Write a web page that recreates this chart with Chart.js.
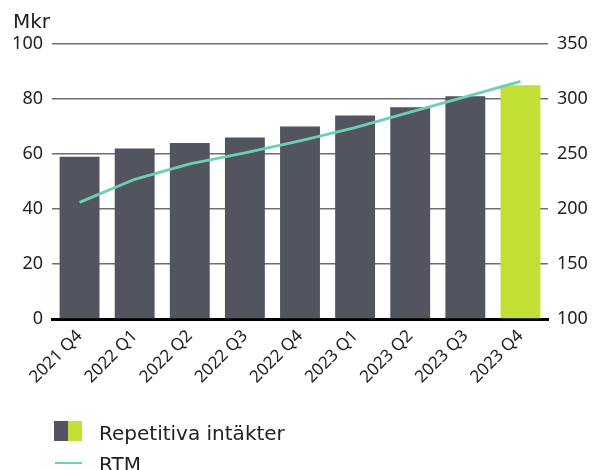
<!DOCTYPE html>
<html>
<head>
<meta charset="utf-8">
<script src="https://cdn.jsdelivr.net/npm/chart.js@4.4.0/dist/chart.umd.min.js"></script>
<style>
  html, body { margin: 0; padding: 0; background: #fff; overflow: hidden; }
  #wrap { position: relative; width: 592px; height: 470px; font-family: 'DejaVu Sans', sans-serif; color: #222; }
  .txt { position: absolute; font-size: 20px; line-height: 20px; white-space: nowrap; }
  .box { position: absolute; }
</style>
</head>
<body>
<div id="wrap">
  <canvas id="chart" width="592" height="470"></canvas>
  <div class="txt" style="left:13px; top:11px;">Mkr</div>
  <div class="box" style="left:54px; top:421px; width:14px; height:20px; background:#52545f;"></div>
  <div class="box" style="left:68px; top:421px; width:14px; height:20px; background:#c1df34;"></div>
  <div class="txt" style="left:99px; top:423px;">Repetitiva intäkter</div>
  <div class="box" style="left:55px; top:462px; width:27px; height:2px; background:#6dd0b6;"></div>
  <div class="txt" style="left:99px; top:454px;">RTM</div>
</div>
<script>
const quarters = ['2021 Q4', '2022 Q1', '2022 Q2', '2022 Q3', '2022 Q4', '2023 Q1', '2023 Q2', '2023 Q3', '2023 Q4'];
const repetitiva = [59, 62, 64, 66, 70, 74, 77, 81, 85];
const rtm = [206, 227, 241, 251, 262, 274, 288, 302, 316];
const leftTicks = [0, 20, 40, 60, 80, 100];
const rightTicks = [100, 150, 200, 250, 300, 350];

const barColors = repetitiva.map((v, i) => i === repetitiva.length - 1 ? '#c1df34' : '#52545f');
const tickFont = { family: 'Noto Sans', size: 18 };

new Chart(document.getElementById('chart'), {
  data: {
    labels: quarters,
    datasets: [
      {
        type: 'line',
        label: 'RTM',
        data: rtm,
        yAxisID: 'y2',
        borderColor: '#6dd0b6',
        borderWidth: 2.8,
        pointRadius: 0,
        tension: 0,
        order: 0,
      },
      {
        type: 'bar',
        label: 'Repetitiva intäkter',
        data: repetitiva,
        yAxisID: 'y',
        backgroundColor: barColors,
        categoryPercentage: 0.724,
        barPercentage: 1,
        order: 1,
      },
    ],
  },
  options: {
    responsive: false,
    animation: false,
    layout: { padding: { top: 44, left: 0, right: 0, bottom: 0 } },
    plugins: { legend: { display: false }, tooltip: { enabled: false } },
    scales: {
      x: {
        grid: { display: false, drawTicks: false },
        border: { color: '#000', width: 3 },
        ticks: { color: '#222', font: { family: 'Noto Sans', size: 17 }, maxRotation: 45, minRotation: 45, padding: 7 },
        afterFit: (s) => { s.height = 151; },
      },
      y: {
        position: 'left',
        min: 0,
        max: 100,
        afterBuildTicks: (s) => { s.ticks = leftTicks.map((v) => ({ value: v })); },
        grid: { color: '#6f6f6f', lineWidth: 1.5, drawTicks: false },
        border: { display: false },
        ticks: { color: '#222', font: tickFont, padding: 9 },
        afterFit: (s) => { s.width = 52; },
      },
      y2: {
        position: 'right',
        min: 100,
        max: 350,
        afterBuildTicks: (s) => { s.ticks = rightTicks.map((v) => ({ value: v })); },
        grid: { display: false, drawTicks: false },
        border: { display: false },
        ticks: { color: '#222', font: tickFont, padding: 9 },
        afterFit: (s) => { s.width = 44; },
      },
    },
  },
});
</script>
</body>
</html>
